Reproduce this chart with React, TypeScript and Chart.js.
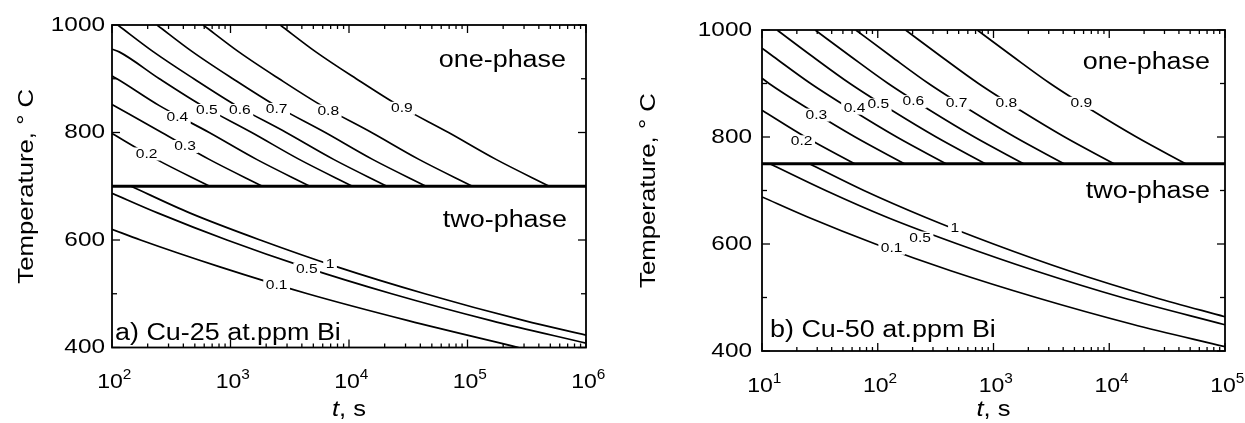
import React, { useEffect, useRef } from "react";
import { Chart, registerables } from "chart.js";

Chart.register(...registerables);

const FONT = '"Liberation Sans", Arial, Helvetica, sans-serif';

// ---------------- Panel a) Cu-25 at.ppm Bi  (t in s, T in °C) ----------------
const aUpperTemps = [1000, 950, 900, 850, 800, 750, 700];
const aTime09 = [2630, 5250, 11500, 26300, 69200, 174000, 490000];
const aTime08 = [589, 1175, 2570, 5890, 15500, 38900, 110000];
const aTime07 = [240, 479, 1047, 2400, 6310, 15800, 44700];
const aTime06 = [112, 224, 490, 1120, 2950, 7410, 20900];
const aTemp05 = [955, 950, 900, 850, 800, 750, 700];
const aTime05 = [100, 115, 251, 575, 1510, 3800, 10700];
const aTemp04 = [905, 900, 850, 800, 750, 700];
const aTime04 = [100, 110, 251, 661, 1660, 4680];
const aTemp03 = [852, 800, 750, 700];
const aTime03 = [100, 263, 661, 1860];
const aTemp02 = [798, 750, 700];
const aTime02 = [100, 237, 668];
// two-phase region
const aTempL1 = [700, 650, 600, 550, 500, 450, 423];
const aTimeL1 = [145, 457, 1780, 7940, 43700, 302000, 1000000];
const aTempL05 = [687, 650, 600, 550, 500, 450, 408];
const aTimeL05 = [100, 245, 933, 4170, 22900, 158000, 1000000];
const aTempL01 = [620, 600, 550, 500, 450, 400];
const aTimeL01 = [100, 174, 813, 4470, 31600, 270000];
const aSolvus = 700;
const aLabelText = ["0.2", "0.3", "0.4", "0.5", "0.6", "0.7", "0.8", "0.9", "0.1", "0.5", "1"];
const aLabelTime = [196, 413, 356, 631, 1200, 2450, 6680, 27900, 2450, 4400, 6920];
const aLabelTemp = [760, 774, 828, 841, 841, 843, 840, 845, 515, 546, 554];
const aXTickExps = [2, 3, 4, 5, 6];

// ---------------- Panel b) Cu-50 at.ppm Bi ----------------
const bUpperTemps = [1000, 950, 900, 850, 800, 750];
const bTime09 = [724, 1480, 3090, 7080, 17200, 45700];
const bTime08 = [174, 355, 741, 1700, 4120, 11000];
const bTime07 = [64.6, 132, 275, 631, 1530, 4070];
const bTime06 = [28.8, 58.9, 123, 282, 684, 1820];
const bTime05 = [13.5, 27.5, 57.5, 132, 320, 851];
const bTemp04 = [966, 950, 900, 850, 800, 750];
const bTime04 = [10, 12.6, 26.3, 60.3, 146, 389];
const bTemp03 = [910, 900, 850, 800, 750];
const bTime03 = [10, 11.5, 26.3, 63.8, 170];
const bTemp02 = [850, 800, 750];
const bTime02 = [10, 23.7, 63.1];
// two-phase region
const bTempL1 = [750, 700, 650, 600, 550, 500, 464];
const bTimeL1 = [25.7, 75.9, 257, 1000, 4470, 24800, 100000];
const bTempL05 = [750, 700, 650, 600, 550, 500, 449];
const bTimeL05 = [11.7, 35.5, 120, 490, 2290, 12900, 100000];
const bTempL01 = [688, 650, 600, 550, 500, 450, 408];
const bTimeL01 = [10, 25.1, 95.5, 427, 2340, 15800, 100000];
const bSolvus = 750;
const bLabelText = ["0.2", "0.3", "0.4", "0.5", "0.6", "0.7", "0.8", "0.9", "0.1", "0.5", "1"];
const bLabelTime = [22, 29.5, 63, 101, 203, 479, 1290, 5750, 132, 232, 464];
const bLabelTemp = [791, 841, 854, 860, 866, 863, 863, 863, 592, 611, 629];
const bXTickExps = [1, 2, 3, 4, 5];

// shared axis
const yMajorTicks = [400, 600, 800, 1000];
const yMinorTicks = [500, 700, 900];
const yTitle = "Temperature, ° C";
const xTitleItalic = "t";
const xTitleRest = ", s";

type Curve = { t: number[]; T: number[] };
type Spec = {
  width: number;
  curves: Curve[];
  solvus: number;
  labels: { text: string; t: number; T: number }[];
  exps: number[];
  caption: string;
  layout: {
    top: number; right: number; yWidth: number; xHeight: number; tickGap: number;
    oneX: number; oneY: number; twoX: number; twoY: number; capX: number; capY: number;
  };
};

const zipLabels = (text: string[], t: number[], T: number[]) =>
  text.map((s, i) => ({ text: s, t: t[i], T: T[i] }));

const panelA: Spec = {
  width: 622,
  curves: [
    { t: aTime09, T: aUpperTemps }, { t: aTime08, T: aUpperTemps },
    { t: aTime07, T: aUpperTemps }, { t: aTime06, T: aUpperTemps },
    { t: aTime05, T: aTemp05 }, { t: aTime04, T: aTemp04 },
    { t: aTime03, T: aTemp03 }, { t: aTime02, T: aTemp02 },
    { t: aTimeL1, T: aTempL1 }, { t: aTimeL05, T: aTempL05 }, { t: aTimeL01, T: aTempL01 },
  ],
  solvus: aSolvus,
  labels: zipLabels(aLabelText, aLabelTime, aLabelTemp),
  exps: aXTickExps,
  caption: "a) Cu-25 at.ppm Bi",
  layout: { top: 25, right: 36, yWidth: 112, xHeight: 75.5, tickGap: 7,
    oneX: 20, oneY: 36, twoX: 19, twoY: 196, capX: 3, capY: 8 },
};

const panelB: Spec = {
  width: 623,
  curves: [
    { t: bTime09, T: bUpperTemps }, { t: bTime08, T: bUpperTemps },
    { t: bTime07, T: bUpperTemps }, { t: bTime06, T: bUpperTemps },
    { t: bTime05, T: bUpperTemps }, { t: bTime04, T: bTemp04 },
    { t: bTime03, T: bTemp03 }, { t: bTime02, T: bTemp02 },
    { t: bTimeL1, T: bTempL1 }, { t: bTimeL05, T: bTempL05 }, { t: bTimeL01, T: bTempL01 },
  ],
  solvus: bSolvus,
  labels: zipLabels(bLabelText, bLabelTime, bLabelTemp),
  exps: bXTickExps,
  caption: "b) Cu-50 at.ppm Bi",
  layout: { top: 30, right: 20, yWidth: 140, xHeight: 72, tickGap: 10,
    oneX: 15, oneY: 33, twoX: 15, twoY: 162, capX: 8, capY: 14 },
};

function drawText(
  ctx: CanvasRenderingContext2D, text: string, x: number, y: number, size: number,
  o: { align?: CanvasTextAlign; baseline?: CanvasTextBaseline; sx?: number; italic?: boolean; rotate?: number } = {}
) {
  ctx.save();
  ctx.translate(x, y);
  if (o.rotate) ctx.rotate(o.rotate);
  ctx.scale(o.sx ?? 1, 1);
  ctx.font = `${o.italic ? "italic " : ""}${size}px ${FONT}`;
  ctx.textAlign = o.align ?? "left";
  ctx.textBaseline = o.baseline ?? "middle";
  ctx.fillStyle = "#000";
  ctx.fillText(text, 0, 0);
  ctx.restore();
}

function textWidth(ctx: CanvasRenderingContext2D, text: string, size: number, sx = 1, italic = false) {
  ctx.save();
  ctx.font = `${italic ? "italic " : ""}${size}px ${FONT}`;
  const w = ctx.measureText(text).width * sx;
  ctx.restore();
  return w;
}

const SX = 1.16;

function decorPlugin(spec: Spec) {
  return {
    id: "decor",
    afterDatasetsDraw(chart: any) {
      const ctx: CanvasRenderingContext2D = chart.ctx;
      const a = chart.chartArea;
      const xs = chart.scales.x;
      const ys = chart.scales.y;
      const L = spec.layout;
      ctx.save();

      // contour labels with white gap
      for (const l of spec.labels) {
        const px = xs.getPixelForValue(l.t);
        const py = ys.getPixelForValue(l.T);
        const w = textWidth(ctx, l.text, 13, 1.2);
        ctx.fillStyle = "#fff";
        ctx.fillRect(px - w / 2 - 2.5, py - 6.5, w + 5, 13);
        drawText(ctx, l.text, px, py, 13, { align: "center", sx: 1.2 });
      }

      // frame
      ctx.strokeStyle = "#000";
      ctx.lineWidth = 1.8;
      ctx.strokeRect(a.left, a.top, a.right - a.left, a.bottom - a.top);

      // inward ticks
      ctx.lineWidth = 1.3;
      const vline = (x: number, y0: number, y1: number) => {
        ctx.beginPath(); ctx.moveTo(x, y0); ctx.lineTo(x, y1); ctx.stroke();
      };
      const hline = (y: number, x0: number, x1: number) => {
        ctx.beginPath(); ctx.moveTo(x0, y); ctx.lineTo(x1, y); ctx.stroke();
      };
      const e0 = spec.exps[0];
      const e1 = spec.exps[spec.exps.length - 1];
      for (let e = e0; e <= e1; e++) {
        const px = xs.getPixelForValue(Math.pow(10, e));
        vline(px, a.bottom, a.bottom - 8);
        vline(px, a.top, a.top + 8);
        if (e < e1) {
          for (let k = 2; k <= 9; k++) {
            const mx = xs.getPixelForValue(k * Math.pow(10, e));
            vline(mx, a.bottom, a.bottom - 4);
            vline(mx, a.top, a.top + 4);
          }
        }
      }
      for (const v of yMajorTicks) {
        const py = ys.getPixelForValue(v);
        hline(py, a.left, a.left + 8);
        hline(py, a.right, a.right - 8);
      }
      for (const v of yMinorTicks) {
        const py = ys.getPixelForValue(v);
        hline(py, a.left, a.left + 5);
        hline(py, a.right, a.right - 5);
      }

      // y tick labels
      for (const v of yMajorTicks) {
        drawText(ctx, String(v), a.left - L.tickGap, ys.getPixelForValue(v), 21, { align: "right", sx: SX });
      }
      // x tick labels 10^n
      const ly = a.bottom + 35;
      for (const e of spec.exps) {
        const px = xs.getPixelForValue(Math.pow(10, e));
        drawText(ctx, "10", px - 2, ly, 21, { align: "center", sx: 1.1 });
        const w10 = textWidth(ctx, "10", 21, 1.1);
        drawText(ctx, String(e), px - 2 + w10 / 2, ly - 7, 14, { align: "left", sx: 1.1 });
      }

      // x title: italic t, s
      const cx = (a.left + a.right) / 2;
      const wt = textWidth(ctx, xTitleItalic, 22, SX, true);
      const wr = textWidth(ctx, xTitleRest, 22, SX);
      const sxp = cx - (wt + wr) / 2;
      drawText(ctx, xTitleItalic, sxp, 410, 22, { align: "left", sx: SX, italic: true });
      drawText(ctx, xTitleRest, sxp + wt, 410, 22, { align: "left", sx: SX });

      // y title
      drawText(ctx, yTitle, 27, (a.top + a.bottom) / 2, 22, {
        align: "center", sx: 1.17, rotate: -Math.PI / 2,
      });

      // region annotations
      drawText(ctx, "one-phase", a.right - L.oneX, a.top + L.oneY, 23, { align: "right", sx: 1.17 });
      drawText(ctx, "two-phase", a.right - L.twoX, a.top + L.twoY, 23, { align: "right", sx: 1.17 });
      drawText(ctx, spec.caption, a.left + L.capX, a.bottom - L.capY, 23, {
        align: "left", baseline: "alphabetic", sx: 1.17,
      });

      ctx.restore();
    },
  };
}

function buildConfig(spec: Spec): any {
  const xmin = Math.pow(10, spec.exps[0]);
  const xmax = Math.pow(10, spec.exps[spec.exps.length - 1]);
  const datasets: any[] = spec.curves.map((c) => ({
    data: c.t.map((v, i) => ({ x: v, y: c.T[i] })),
    borderColor: "#000",
    borderWidth: 1.7,
    pointRadius: 0,
    fill: false,
    cubicInterpolationMode: "monotone",
  }));
  datasets.push({
    data: [{ x: xmin, y: spec.solvus }, { x: xmax, y: spec.solvus }],
    borderColor: "#000",
    borderWidth: 3,
    pointRadius: 0,
    fill: false,
  });
  const L = spec.layout;
  return {
    type: "line",
    data: { datasets },
    options: {
      responsive: false,
      animation: false,
      events: [],
      layout: { padding: { left: 0, top: L.top, right: L.right, bottom: 0 } },
      plugins: { legend: { display: false }, tooltip: { enabled: false }, title: { display: false } },
      scales: {
        x: {
          type: "logarithmic", min: xmin, max: xmax,
          ticks: { display: false }, grid: { display: false }, border: { display: false },
          afterFit: (s: any) => { s.height = L.xHeight; },
        },
        y: {
          type: "linear", min: 400, max: 1000,
          ticks: { display: false }, grid: { display: false }, border: { display: false },
          afterFit: (s: any) => { s.width = L.yWidth; },
        },
      },
    },
    plugins: [decorPlugin(spec)],
  };
}

function Panel({ spec }: { spec: Spec }) {
  const ref = useRef<HTMLCanvasElement>(null);
  useEffect(() => {
    if (!ref.current) return;
    const chart = new Chart(ref.current, buildConfig(spec));
    return () => chart.destroy();
  }, [spec]);
  return <canvas ref={ref} width={spec.width} height={423} style={{ display: "block" }} />;
}

export default function App() {
  return (
    <div style={{ position: "absolute", left: 0, top: 0, width: 1245, height: 423, background: "#fff", display: "flex" }}>
      <Panel spec={panelA} />
      <Panel spec={panelB} />
    </div>
  );
}
